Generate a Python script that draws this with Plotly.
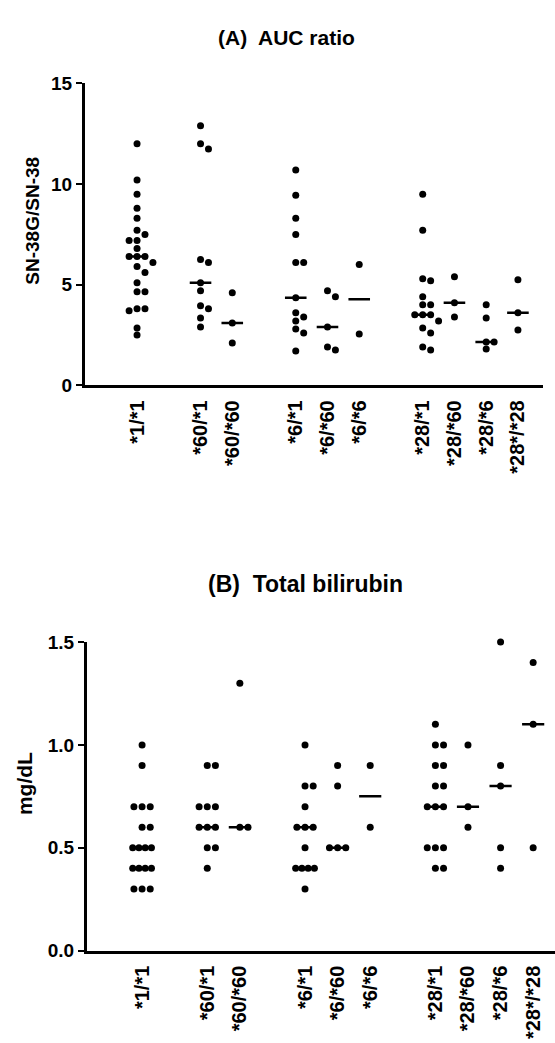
import numpy as np
import plotly.graph_objects as go

# ---------------- data ----------------
genotype_groups = [["*1/*1"],
                   ["*60/*1", "*60/*60"],
                   ["*6/*1", "*6/*60", "*6/*6"],
                   ["*28/*1", "*28/*60", "*28/*6", "*28*/*28"]]

# (A) AUC ratio SN-38G/SN-38
auc_1_1 = [12.0, 10.2, 9.5, 8.8, 8.3, 7.7, 7.5, 7.2, 7.2, 6.8, 6.4, 6.4, 6.4, 6.1, 5.9,
           5.6, 5.1, 4.65, 4.65, 3.8, 3.7, 3.8, 2.85, 2.5]
auc_60_1 = [12.9, 12.0, 11.75, 6.25, 6.1, 5.1, 4.7, 3.95, 3.8, 3.35, 2.9]
auc_60_60 = [4.6, 3.1, 2.1]
auc_6_1 = [10.7, 9.45, 8.3, 7.5, 6.1, 6.1, 4.35, 3.6, 3.4, 3.2, 2.8, 2.6, 1.7]
auc_6_60 = [4.7, 4.4, 2.9, 1.9, 1.75]
auc_6_6 = [6.0, 2.55]
auc_28_1 = [9.5, 7.7, 5.3, 5.2, 4.4, 4.0, 4.0, 3.5, 3.5, 3.5, 3.2, 2.85, 2.6, 1.9, 1.75]
auc_28_60 = [5.4, 4.1, 3.4]
auc_28_6 = [4.0, 3.35, 2.15, 2.15, 1.8]
auc_28_28 = [5.25, 3.6, 2.75]

# (B) Total bilirubin (mg/dL)
bil_1_1 = [1.0, 0.9, 0.7, 0.7, 0.7, 0.6, 0.6, 0.5, 0.5, 0.5, 0.5, 0.4, 0.4, 0.4, 0.4,
           0.3, 0.3, 0.3]
bil_60_1 = [0.9, 0.9, 0.7, 0.7, 0.7, 0.6, 0.6, 0.6, 0.5, 0.5, 0.4]
bil_60_60 = [1.3, 0.6, 0.6]
bil_6_1 = [1.0, 0.8, 0.8, 0.7, 0.6, 0.6, 0.6, 0.5, 0.4, 0.4, 0.4, 0.4, 0.3]
bil_6_60 = [0.9, 0.8, 0.5, 0.5, 0.5]
bil_6_6 = [0.9, 0.6]
bil_28_1 = [1.1, 1.0, 1.0, 0.9, 0.9, 0.8, 0.8, 0.7, 0.7, 0.7, 0.5, 0.5, 0.5, 0.4, 0.4]
bil_28_60 = [1.0, 0.7, 0.6]
bil_28_6 = [1.5, 0.9, 0.8, 0.5, 0.4]
bil_28_28 = [1.4, 1.1, 0.5]

auc_series = [auc_1_1, auc_60_1, auc_60_60, auc_6_1, auc_6_60, auc_6_6,
              auc_28_1, auc_28_60, auc_28_6, auc_28_28]
bil_series = [bil_1_1, bil_60_1, bil_60_60, bil_6_1, bil_6_60, bil_6_6,
              bil_28_1, bil_28_60, bil_28_6, bil_28_28]

title_a = "(A)  AUC ratio"
title_b = "(B)  Total bilirubin"
ytitle_a = "SN-38G/SN-38"
ytitle_b = "mg/dL"
yticks_a = [0, 5, 10, 15]
yticks_b = [0.0, 0.5, 1.0, 1.5]

# ---------------- layout helpers ----------------
labels, positions = [], []
p = 0
for grp in genotype_groups:
    for lab in grp:
        labels.append(lab)
        positions.append(p)
        p += 1
    p += 1

W, H = 555, 1043
FONT = "Liberation Sans, Arial, Helvetica, sans-serif"
STEP = 0.25      # horizontal dot spacing (x units)
HALF = 0.34      # half width of median bar


def spread(vals, thr):
    """Simple scatter-dot-plot spreading: slot offsets for overlapping points."""
    n = len(vals)
    order = sorted(range(n), key=lambda i: -vals[i])
    placed = []
    slots = [0] * n
    for i in order:
        for s in (0, 1, -1, 2, -2, 3, -3):
            if all(not (abs(vals[i] - v) < thr and s == ps) for v, ps in placed):
                slots[i] = s
                placed.append((vals[i], s))
                break
    # compress rows of 4+ identical values
    arr = np.array(vals)
    for v in np.unique(arr):
        idx = np.where(np.isclose(arr, v))[0]
        if len(idx) >= 4:
            for k, j in zip(range(len(idx)), idx):
                slots[j] = -1.15 + 2.3 * k / (len(idx) - 1)
    return np.array(slots, dtype=float)


fig = go.Figure()


def add_panel(series, xa, ya, thr):
    for pos, vals in zip(positions, series):
        off = spread(vals, thr) * STEP
        fig.add_trace(go.Scatter(
            x=pos + off, y=vals, mode="markers", xaxis=xa, yaxis=ya,
            marker=dict(color="black", size=7, line=dict(width=0)),
            showlegend=False, cliponaxis=False, hoverinfo="skip"))
        med = float(np.median(vals))
        fig.add_trace(go.Scatter(
            x=[pos - HALF, pos + HALF], y=[med, med], mode="lines",
            xaxis=xa, yaxis=ya, line=dict(color="black", width=2.5),
            showlegend=False, cliponaxis=False, hoverinfo="skip"))


add_panel(auc_series, "x", "y", 0.34)
add_panel(bil_series, "x2", "y2", 0.05)

tickfont_x = dict(family=FONT, size=20, color="black", weight="bold")
tickfont_y = dict(family=FONT, size=19, color="black", weight="bold")

common_x = dict(tickmode="array", tickvals=positions, ticktext=labels,
                tickangle=-90, ticks="", showline=True, linewidth=3,
                linecolor="black", showgrid=False, zeroline=False,
                tickfont=tickfont_x, ticklabelstandoff=4, fixedrange=True)
common_y = dict(tickmode="array", ticks="outside", ticklen=6, tickwidth=2,
                tickcolor="black", showline=True, linewidth=3,
                linecolor="black", showgrid=False, zeroline=False,
                tickfont=tickfont_y, fixedrange=True)

fig.update_layout(
    width=W, height=H, margin=dict(l=0, r=0, t=0, b=0),
    paper_bgcolor="white", plot_bgcolor="white",
    xaxis=dict(domain=[85 / W, 543 / W], range=[-1.64, 12.79], anchor="y",
               **common_x),
    yaxis=dict(domain=[(H - 383) / H, (H - 75) / H], range=[0, 15],
               tickvals=yticks_a, anchor="x", **common_y),
    xaxis2=dict(domain=[87 / W, 1.0], range=[-1.69, 12.67], anchor="y2",
                **common_x),
    yaxis2=dict(domain=[(H - 960) / H, (H - 645) / H], range=[0, 1.5],
                tickvals=yticks_b, tickformat=".1f", anchor="x2", **common_y),
    annotations=[
        dict(text=title_a, x=286 / W, y=(H - 28) / H, xref="paper", yref="paper",
             showarrow=False, xanchor="center", yanchor="middle",
             font=dict(family=FONT, size=21, color="black", weight="bold")),
        dict(text=title_b, x=305 / W, y=(H - 586) / H, xref="paper", yref="paper",
             showarrow=False, xanchor="center", yanchor="middle",
             font=dict(family=FONT, size=23, color="black", weight="bold")),
        dict(text=ytitle_a, x=33 / W, y=(H - 215) / H, xref="paper", yref="paper",
             showarrow=False, xanchor="center", yanchor="middle", textangle=-90,
             font=dict(family=FONT, size=19, color="black", weight="bold")),
        dict(text=ytitle_b, x=24 / W, y=(H - 790) / H, xref="paper", yref="paper",
             showarrow=False, xanchor="center", yanchor="middle", textangle=-90,
             font=dict(family=FONT, size=21, color="black", weight="bold")),
    ],
)

fig.write_html("out.html", config={"displayModeBar": False, "staticPlot": True},
               post_script="document.body.style.margin='0';")
